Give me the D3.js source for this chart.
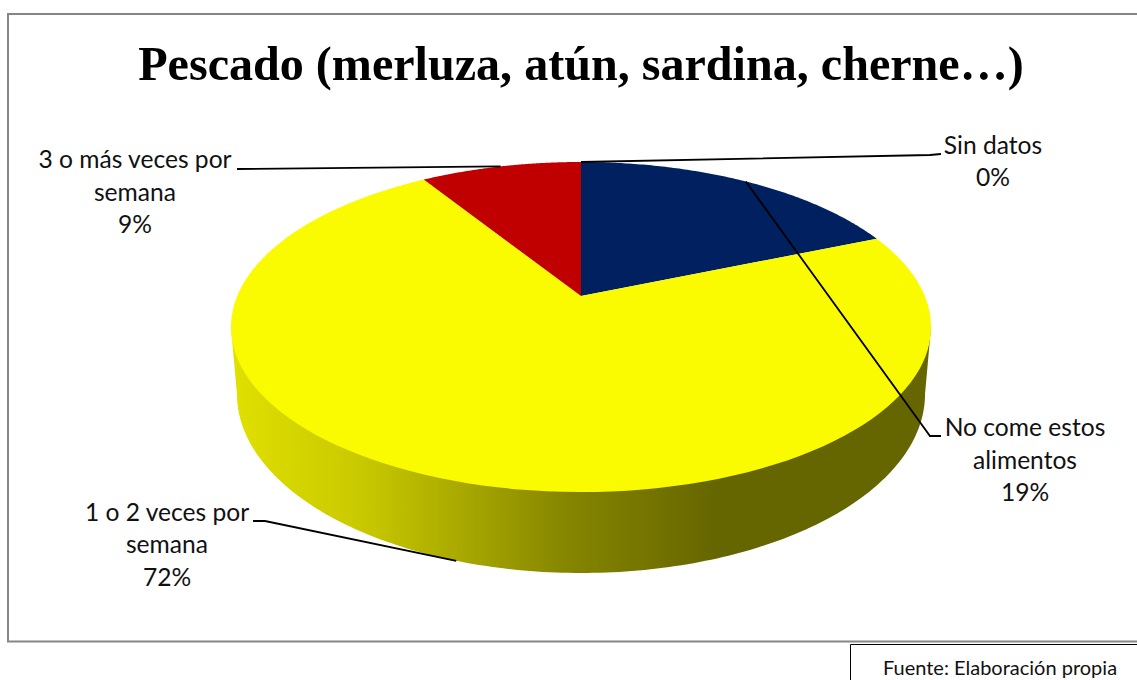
<!DOCTYPE html>
<html>
<head>
<meta charset="utf-8">
<script src="https://cdn.jsdelivr.net/npm/d3@7"></script>
<style>
  html, body { margin: 0; padding: 0; background: #fff; overflow: hidden; }
  svg { display: block; }
  .lbl { font-family: "Lato", sans-serif; font-size: 24.6px; fill: #111; text-anchor: middle; }
</style>
</head>
<body>
<div id="chart"></div>
<script>
// data
const categories = ["No come estos alimentos", "1 o 2 veces por semana", "3 o más veces por semana", "Sin datos"]
const values = [18.7, 72.4, 8.9, 0]
const shownPct = ["19%", "72%", "9%", "0%"]
const colors = ["#002060", "#fbfb00", "#c00000", "#4f81bd"]
const titleText = "Pescado (merluza, atún, sardina, cherne…)"
const sourceText = "Fuente: Elaboración propia"

const width = 1137, height = 680

const svg = d3.select("#chart").append("svg")
  .attr("width", width)
  .attr("height", height)

// ---- perspective disc: maps a pie angle onto the tilted circle ----
const apexX = 581
const tilt = 0.188
const topDisc = {y: 296, a: 343.8, b: 159.2}
const bottomDisc = {y: 360.3, a: 337.9, b: 172.7}

function project(angle, disc) {
  const u = Math.sin(angle), v = -Math.cos(angle)
  const w = 1 - tilt * v
  return [apexX + disc.a * u / w, disc.y + disc.b * v / w]
}

const pie = d3.pie().sort(null).value(d => d)
const arcs = pie(values)
const line = d3.line()

// ---- frame, open on the right where the page cuts it ----
svg.append("path")
  .attr("d", line([[1137, 14], [8, 14], [8, 641.5], [1137, 641.5]]))
  .attr("fill", "none")
  .attr("stroke", "#868686")
  .attr("stroke-width", 2)

// ---- title ----
svg.append("text")
  .attr("x", 581).attr("y", 79.5)
  .attr("text-anchor", "middle")
  .attr("font-family", "'Liberation Serif', serif")
  .attr("font-weight", "bold")
  .attr("font-size", 48.1)
  .attr("fill", "#000")
  .text(titleText)

// ---- side wall, shaded left to right ----
const grad = svg.append("defs").append("linearGradient")
  .attr("id", "wall")
  .attr("gradientUnits", "userSpaceOnUse")
  .attr("x1", 232).attr("x2", 932).attr("y1", 0).attr("y2", 0)
const shade = [[0, "#e0e000"], [0.19, "#c8c800"], [0.32, "#aaaa00"], [0.48, "#858500"], [0.69, "#666600"], [1, "#666600"]]
grad.selectAll("stop").data(shade).enter().append("stop")
  .attr("offset", d => d[0])
  .attr("stop-color", d => d[1])

// front half of both rims, widest point to widest point
const rimStart = Math.PI / 2 + Math.asin(tilt), rimEnd = 3 * Math.PI / 2 - Math.asin(tilt)
const frontAngles = d3.range(0, 181).map(i => rimStart + (rimEnd - rimStart) * i / 180)
const wallPts = [project(rimStart, topDisc)]
  .concat(frontAngles.map(a => project(a, bottomDisc)))
  .concat([project(rimEnd, topDisc)])
svg.append("path")
  .attr("d", line(wallPts) + "Z")
  .attr("fill", "url(#wall)")

// ---- top slices ----
svg.selectAll(".slice")
  .data(arcs)
  .enter()
  .append("path")
    .attr("class", "slice")
    .attr("fill", (d, i) => colors[i])
    .attr("d", d => {
      if (d.endAngle === d.startAngle) return null
      const steps = d3.range(0, 121).map(i => d.startAngle + (d.endAngle - d.startAngle) * i / 120)
      return line([[apexX, topDisc.y]].concat(steps.map(a => project(a, topDisc)))) + "Z"
    })

// ---- leader lines, each one ends on the middle of its slice ----
const mid = d => (d.startAngle + d.endAngle) / 2
const leaders = [
  {from: project(mid(arcs[0]), topDisc), via: [[930, 436], [941, 436]]},
  {from: project(mid(arcs[1]), bottomDisc), via: [[265, 521], [253, 521]]},
  {from: project(mid(arcs[2]), topDisc), via: [[237, 169]]},
  {from: project(mid(arcs[3]), topDisc), via: [[930, 155], [941, 154]]}
]
svg.selectAll(".leader")
  .data(leaders)
  .enter()
  .append("path")
    .attr("class", "leader")
    .attr("fill", "none")
    .attr("stroke", "#000")
    .attr("stroke-width", 1.8)
    .attr("d", d => line([d.from].concat(d.via)))

// ---- labels ----
const labelLines = [
  ["No come estos", "alimentos", shownPct[0]],
  ["1 o 2 veces por", "semana", shownPct[1]],
  ["3 o más veces por", "semana", shownPct[2]],
  ["Sin datos", shownPct[3]]
]
const labelPos = [
  {x: 1025, y: [436, 469, 501]},
  {x: 167, y: [521, 553, 586]},
  {x: 135, y: [168, 201, 233]},
  {x: 993, y: [154, 186]}
]
labelLines.forEach((rows, i) => {
  svg.selectAll(".l" + i)
    .data(rows)
    .enter()
    .append("text")
      .attr("class", "lbl l" + i)
      .attr("x", labelPos[i].x)
      .attr("y", (d, j) => labelPos[i].y[j])
      .text(d => d)
})

// ---- source box, cut by the page edge ----
svg.append("path")
  .attr("d", line([[850.5, 680], [850.5, 644.5], [1137, 644.5]]))
  .attr("fill", "none")
  .attr("stroke", "#000")
  .attr("stroke-width", 1)
svg.append("text")
  .attr("x", 1000).attr("y", 675)
  .attr("text-anchor", "middle")
  .attr("font-family", "Lato, sans-serif")
  .attr("font-size", 20)
  .attr("fill", "#111")
  .text(sourceText)
</script>
</body>
</html>
